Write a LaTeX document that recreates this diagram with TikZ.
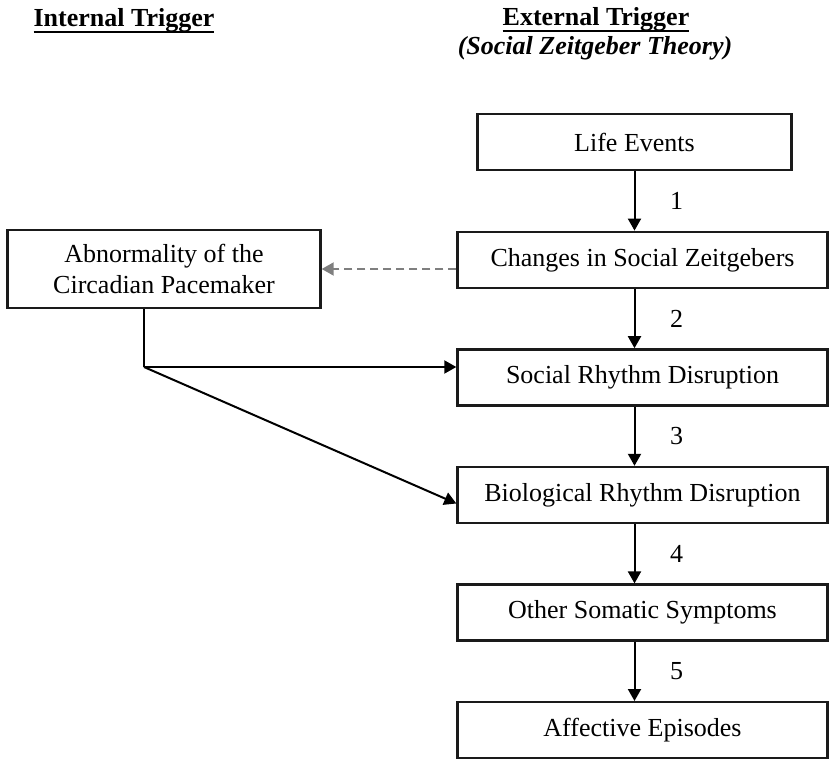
\documentclass[tikz,border=0pt]{standalone}
\usepackage{fontspec}
\setmainfont{Liberation Serif}
\usetikzlibrary{arrows.meta,positioning}
\definecolor{boxline}{HTML}{1A1A1A}
\definecolor{dashgray}{HTML}{7F7F7F}
\newcommand{\hdrline}[1]{\setbox0\hbox{#1}\rlap{\usebox0}\rule[-3pt]{\wd0}{1.1pt}}

\begin{document}
\begin{tikzpicture}[
    x=0.5pt, y=-0.5pt,
    node distance=29.6pt,
    every node/.style={text=black},
    header/.style={
        font=\fontsize{13}{15.6}\selectfont\bfseries,
        anchor=base
    },
    stage/.style={
        rectangle,
        draw=boxline,
        line width=1.2pt,
        minimum width=185pt,
        minimum height=28pt,
        align=center,
        font=\fontsize{13}{15.6}\selectfont
    },
    trigger/.style={
        stage,
        minimum width=156.5pt,
        minimum height=39pt
    },
    num/.style={
        font=\fontsize{13}{15.6}\selectfont,
        right=14pt,
        midway
    },
    arrow/.style={
        -{Triangle[length=6pt,width=6.5pt]},
        line width=1pt,
        draw=black
    },
    feedback/.style={
        -{Triangle[length=6pt,width=6.5pt]},
        line width=1pt,
        draw=dashgray,
        dash pattern=on 4pt off 2.5pt
    }
]
\useasboundingbox (0,0) rectangle (830,759);

% column headers
\node[header] (internal) at (124,27) {\hdrline{Internal Trigger}};
\node[header] (external) at (596,26) {\hdrline{External Trigger}};
\node[header, font=\fontsize{13}{15.6}\selectfont\bfseries\itshape] (theory) at (595,55)
{(Social Zeitgeber Theory)};

% social zeitgeber chain
\node[stage, minimum width=157pt] (life) at (634.5,142.2) {Life Events};
\node[stage, below=of life, xshift=4pt] (changes) {Changes in Social Zeitgebers};
\node[stage, below=of changes] (social) {Social Rhythm Disruption};
\node[stage, below=of social] (bio) {Biological Rhythm Disruption};
\node[stage, below=of bio] (somatic) {Other Somatic Symptoms};
\node[stage, below=of somatic] (affective) {Affective Episodes};

\draw[arrow] (life.south) -- (life.south |- changes.north) node[num] {1};
\draw[arrow] (life.south |- changes.south) -- (life.south |- social.north) node[num] {2};
\draw[arrow] (life.south |- social.south) -- (life.south |- bio.north) node[num] {3};
\draw[arrow] (life.south |- bio.south) -- (life.south |- somatic.north) node[num] {4};
\draw[arrow] (life.south |- somatic.south) -- (life.south |- affective.north) node[num] {5};

% internal trigger
\node[trigger] (pacemaker) at (164,269) {Abnormality of the\\Circadian Pacemaker};
\coordinate (split) at (144,367);

\draw[feedback] (changes.west |- pacemaker.east) -- (pacemaker.east);
\draw[line width=1pt] (split |- pacemaker.south) -- (split);
\draw[arrow] (split) -- (split -| social.west);
\draw[arrow] (split) -- ([yshift=-4.25pt]bio.west);

\end{tikzpicture}
\end{document}
